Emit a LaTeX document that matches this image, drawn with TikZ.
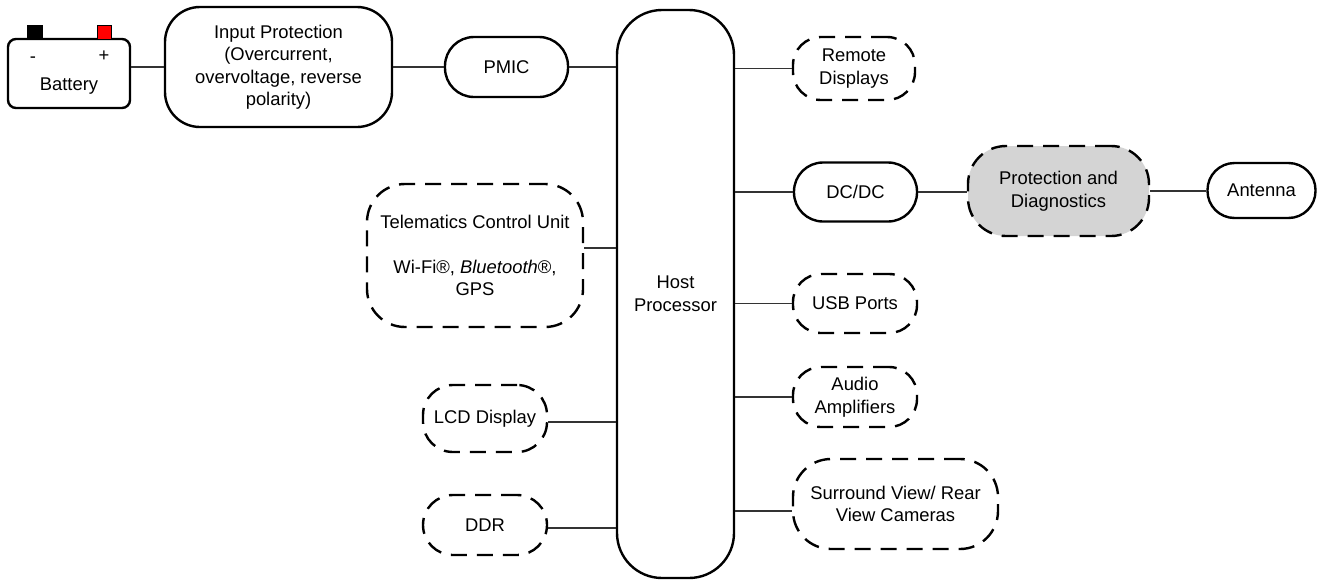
\documentclass[tikz,border=0pt]{standalone}
\usepackage{fontspec}
\setmainfont{Liberation Sans}
\usepackage{tikz}
\usetikzlibrary{calc}
\usetikzlibrary{positioning}
\tikzstyle{block} = [draw, line width=2.4pt, rounded corners=#1, align=center, inner sep=0pt]
\tikzstyle{dblock} = [block=#1, dash pattern=on 16pt off 10pt]
\tikzstyle{line} = [draw, line width=1.2pt, black!80]
\definecolor{diaggray}{RGB}{212,212,212}

\begin{document}
\begin{tikzpicture}[x=1pt, y=-1pt, every node/.style={font=\fontsize{18.4}{22.5}\selectfont}]
  \useasboundingbox (0,0) rectangle (1318,579);
  % power path
  \node [block=8pt, minimum width=122pt, minimum height=69pt] (battery) at (69,73.5) {};
  \fill [draw=black, line width=0.8pt] (27,25) rectangle (42,39);
  \fill [red, draw=black, line width=0.8pt] (97,25) rectangle (111,39);
  \node (minus) at (33,60) {-};
  \node (plus) at (104,56) {+};
  \node (battlabel) at (69,86) {Battery};
  \node [block=35pt, minimum width=227pt, minimum height=120pt] (inprot) at (278.5,67) {Input Protection\\(Overcurrent,\\overvoltage, reverse\\polarity)};
  \node [block=29pt, minimum width=123pt, minimum height=60pt] (pmic) at (506.5,67) {PMIC};
  \node [block=45pt, minimum width=117pt, minimum height=568pt] (host) at (675.5,294) {Host\\Processor};
  % right side
  \node [dblock=28pt, minimum width=122pt, minimum height=63pt] (remote) at (854,68.5) {Remote\\Displays};
  \node [block=29pt, minimum width=123pt, minimum height=59pt] (dcdc) at (855.5,192) {DC/DC};
  \node [dblock=38pt, fill=diaggray, minimum width=181pt, minimum height=90pt] (protdiag) at (1058.5,191) {Protection and\\Diagnostics};
  \node [block=27pt, minimum width=108pt, minimum height=55pt] (antenna) at (1261.5,190.5) {Antenna};
  \node [dblock=28pt, minimum width=124pt, minimum height=59pt] (usb) at (855,303.5) {USB Ports};
  \node [dblock=28pt, minimum width=124pt, minimum height=60pt] (audio) at (855,397) {Audio\\Amplifiers};
  \node [dblock=38pt, minimum width=205pt, minimum height=90pt] (surround) at (895.5,504) {Surround View/ Rear\\View Cameras};
  % left side
  \node [dblock=38pt, minimum width=216pt, minimum height=143pt] (tcu) at (475,255.5) {Telematics Control Unit\\[22pt]Wi-Fi®, \textit{Bluetooth}®,\\GPS};
  \node [dblock=30pt, minimum width=124pt, minimum height=67pt] (lcd) at (485,418.5) {LCD Display};
  \node [dblock=30pt, minimum width=124pt, minimum height=60pt] (ddr) at (485,525) {DDR};
  % connections
  \coordinate (tcuout) at ([yshift=7.5pt]tcu.east);
  \coordinate (lcdout) at ([yshift=-3.5pt]lcd.east);
  \coordinate (ddrout) at ([yshift=-3pt]ddr.east);
  \coordinate (svin) at ([yshift=-7pt]surround.west);
  \draw [line] (battery.east |- inprot.west) -- (inprot.west);
  \draw [line] (inprot.east) -- (pmic.west);
  \draw [line] (pmic.east) -- (pmic.east -| host.west);
  \draw [line] (host.east |- remote.west) -- (remote.west);
  \draw [line] (host.east |- dcdc.west) -- (dcdc.west);
  \draw [line] (dcdc.east) -- (dcdc.east -| protdiag.west);
  \draw [line] (protdiag.east) -- (protdiag.east -| antenna.west);
  \draw [line] (host.east |- usb.west) -- (usb.west);
  \draw [line] (host.east |- audio.west) -- (audio.west);
  \draw [line] (host.east |- svin) -- (svin);
  \draw [line] (tcuout) -- (tcuout -| host.west);
  \draw [line] (lcdout) -- (lcdout -| host.west);
  \draw [line] (ddrout) -- (ddrout -| host.west);
\end{tikzpicture}
\end{document}
